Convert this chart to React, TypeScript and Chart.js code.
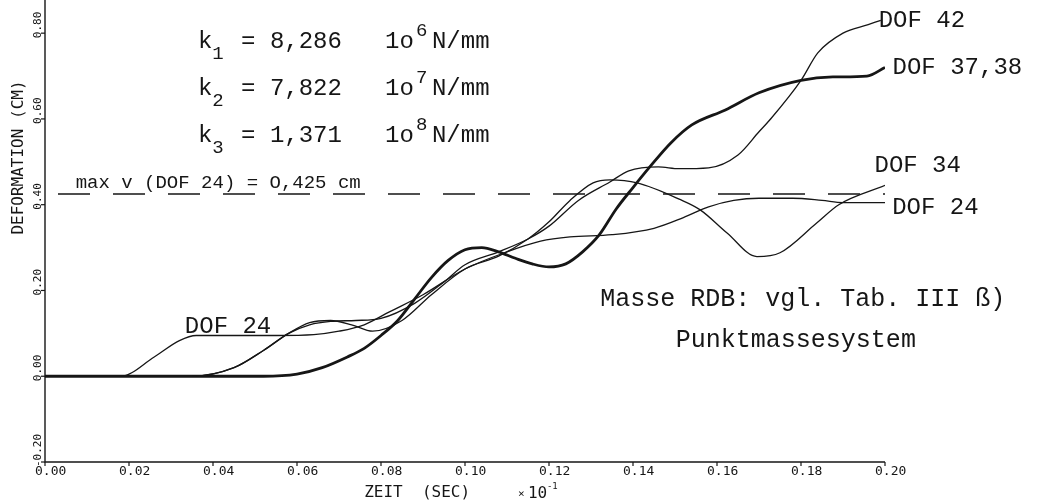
import React, { useEffect, useRef } from "react";
import { Chart, registerables } from "chart.js";

Chart.register(...registerables);

// ---- axis ticks ----
const X_TICKS = [0, 0.02, 0.04, 0.06, 0.08, 0.1, 0.12, 0.14, 0.16, 0.18, 0.2];
const X_TICK_LABELS = ["0.00", "0.02", "0.04", "0.06", "0.08", "0.10", "0.12", "0.14", "0.16", "0.18", "0.20"];
const Y_TICKS = [-0.2, 0, 0.2, 0.4, 0.6, 0.8];
const Y_TICK_LABELS = ["-0.20", "0.00", "0.20", "0.40", "0.60", "0.80"];
const X_TITLE = "ZEIT  (SEC)";
const Y_TITLE = "DEFORMATION (CM)";

// ---- series (time in sec*10^-1, deformation in cm) ----
const DOF24_T = [0, 0.018, 0.026, 0.032, 0.036, 0.045, 0.055, 0.064, 0.07, 0.076, 0.082, 0.09, 0.1, 0.11, 0.118, 0.125, 0.135, 0.145, 0.152, 0.158, 0.164, 0.17, 0.178, 0.185, 0.19, 0.2];
const DOF24_V = [0, 0, 0.045, 0.083, 0.095, 0.095, 0.095, 0.097, 0.105, 0.12, 0.15, 0.19, 0.25, 0.29, 0.315, 0.325, 0.33, 0.345, 0.37, 0.395, 0.41, 0.415, 0.415, 0.41, 0.405, 0.405];

const DOF34_T = [0, 0.035, 0.045, 0.052, 0.058, 0.063, 0.068, 0.073, 0.078, 0.085, 0.092, 0.1, 0.108, 0.115, 0.12, 0.125, 0.1305, 0.1345, 0.141, 0.151, 0.156, 0.1624, 0.1695, 0.175, 0.1838, 0.189, 0.2];
const DOF34_V = [0, 0, 0.02, 0.06, 0.1, 0.125, 0.13, 0.12, 0.105, 0.13, 0.19, 0.25, 0.28, 0.32, 0.36, 0.41, 0.451, 0.458, 0.451, 0.413, 0.388, 0.334, 0.279, 0.288, 0.358, 0.4, 0.445];

const DOF42_T = [0, 0.035, 0.045, 0.052, 0.058, 0.063, 0.068, 0.074, 0.08, 0.088, 0.095, 0.1, 0.108, 0.115, 0.12, 0.127, 0.1345, 0.139, 0.146, 0.151, 0.158, 0.165, 0.17, 0.1726, 0.18, 0.184, 0.19, 0.196, 0.199];
const DOF42_V = [0, 0, 0.02, 0.06, 0.1, 0.12, 0.128, 0.13, 0.135, 0.17, 0.22, 0.26, 0.29, 0.32, 0.35, 0.41, 0.453, 0.479, 0.488, 0.484, 0.486, 0.516, 0.57, 0.598, 0.69, 0.754, 0.8, 0.82, 0.83];

const DOF3738_T = [0, 0.052, 0.06, 0.066, 0.072, 0.076, 0.08, 0.084, 0.088, 0.092, 0.096, 0.1, 0.104, 0.108, 0.112, 0.116, 0.12, 0.124, 0.128, 0.132, 0.136, 0.14, 0.144, 0.149, 0.154, 0.162, 0.17, 0.18, 0.1876, 0.1957, 0.2];
const DOF3738_V = [0, 0, 0.005, 0.02, 0.045, 0.065, 0.095, 0.13, 0.18, 0.23, 0.27, 0.295, 0.3, 0.29, 0.275, 0.262, 0.255, 0.262, 0.29, 0.33, 0.39, 0.44, 0.488, 0.544, 0.586, 0.621, 0.661, 0.69, 0.698, 0.7, 0.72];

const MAX_V = 0.425;
const MAX_V_RANGE = [0, 0.2];

// ---- annotation texts (anchored in data coordinates) ----
const CURVE_LABELS = [
  { text: "DOF 42", t: 0.1985, v: 0.83 },
  { text: "DOF 37,38", t: 0.2018, v: 0.72 },
  { text: "DOF 34", t: 0.1975, v: 0.49 },
  { text: "DOF 24", t: 0.2017, v: 0.392 },
  { text: "DOF 24", t: 0.0333, v: 0.116 },
];
const K_LINES = [
  { base: "k", sub: "1", mid: " = 8,286   1o", sup: "6", tail: "N/mm", t: 0.0364, v: 0.766 },
  { base: "k", sub: "2", mid: " = 7,822   1o", sup: "7", tail: "N/mm", t: 0.0364, v: 0.656 },
  { base: "k", sub: "3", mid: " = 1,371   1o", sup: "8", tail: "N/mm", t: 0.0364, v: 0.547 },
];
const MAXV_TEXT = { text: "max v (DOF 24) = O,425 cm", t: 0.0073, v: 0.44 };
const NOTE_LINES = [
  { text: "Masse RDB: vgl. Tab. III ß)", t: 0.1322, v: 0.18 },
  { text: "Punktmassesystem", t: 0.1502, v: 0.083 },
];

const toPts = (ts: number[], vs: number[]) => ts.map((t, i) => ({ x: t, y: vs[i] }));

const INK = "#161616";
const MONO = "'Liberation Mono', 'DejaVu Sans Mono', monospace";
const PLOT = "'DejaVu Sans Mono', monospace";

const decorPlugin = {
  id: "decor",
  afterDraw(chart: any) {
    const { ctx, scales } = chart;
    const xs = scales.x;
    const ys = scales.y;
    const x0 = xs.getPixelForValue(0);
    const x1 = xs.getPixelForValue(0.2);
    const yb = ys.getPixelForValue(-0.2);
    const top = 0;
    ctx.save();
    ctx.strokeStyle = INK;
    ctx.fillStyle = INK;
    ctx.lineWidth = 1.4;
    // axes
    ctx.beginPath();
    ctx.moveTo(x0, top);
    ctx.lineTo(x0, yb);
    ctx.lineTo(x1, yb);
    ctx.stroke();
    // x ticks
    ctx.lineWidth = 1.2;
    X_TICKS.forEach((t) => {
      const px = xs.getPixelForValue(t);
      ctx.beginPath();
      ctx.moveTo(px, yb);
      ctx.lineTo(px, yb + 4);
      ctx.stroke();
    });
    // y ticks
    Y_TICKS.forEach((v) => {
      const py = ys.getPixelForValue(v);
      ctx.beginPath();
      ctx.moveTo(x0 - 4, py);
      ctx.lineTo(x0, py);
      ctx.stroke();
    });
    // x tick labels
    ctx.font = `13px ${PLOT}`;
    ctx.textAlign = "left";
    ctx.textBaseline = "alphabetic";
    X_TICKS.forEach((t, i) => {
      const px = xs.getPixelForValue(t);
      ctx.fillText(X_TICK_LABELS[i], px - 10, yb + 13);
    });
    // y tick labels (rotated)
    ctx.font = `11px ${PLOT}`;
    Y_TICKS.forEach((v, i) => {
      const py = ys.getPixelForValue(v);
      ctx.save();
      ctx.translate(x0 - 4, py + 5);
      ctx.rotate(-Math.PI / 2);
      ctx.fillText(Y_TICK_LABELS[i], 0, 0);
      ctx.restore();
    });
    // axis titles
    ctx.font = `16px ${PLOT}`;
    ctx.textAlign = "center";
    ctx.fillText(X_TITLE, xs.getPixelForValue(0.0886), yb + 35);
    ctx.save();
    ctx.translate(x0 - 22, ys.getPixelForValue(0.51));
    ctx.rotate(-Math.PI / 2);
    ctx.fillText(Y_TITLE, 0, 0);
    ctx.restore();
    // x10^-1
    ctx.textAlign = "left";
    const ex = xs.getPixelForValue(0.1126);
    ctx.font = `11px ${PLOT}`;
    ctx.fillText("×", ex, yb + 35);
    ctx.font = `16px ${PLOT}`;
    ctx.fillText("10", ex + 10, yb + 36);
    ctx.font = `9px ${PLOT}`;
    ctx.fillText("-1", ex + 29, yb + 27);

    // annotations
    ctx.font = `24px ${MONO}`;
    ctx.textBaseline = "middle";
    CURVE_LABELS.forEach((l) => {
      ctx.fillText(l.text, xs.getPixelForValue(l.t), ys.getPixelForValue(l.v));
    });
    ctx.font = `25px ${MONO}`;
    NOTE_LINES.forEach((l) => {
      ctx.fillText(l.text, xs.getPixelForValue(l.t), ys.getPixelForValue(l.v));
    });
    ctx.textBaseline = "alphabetic";
    ctx.font = `19px ${MONO}`;
    ctx.fillText(MAXV_TEXT.text, xs.getPixelForValue(MAXV_TEXT.t), ys.getPixelForValue(MAXV_TEXT.v));
    K_LINES.forEach((k) => {
      let px = xs.getPixelForValue(k.t);
      const py = ys.getPixelForValue(k.v);
      ctx.font = `24px ${MONO}`;
      const cw = ctx.measureText("0").width;
      ctx.fillText(k.base, px, py);
      px += cw;
      ctx.font = `19px ${MONO}`;
      ctx.fillText(k.sub, px, py + 11);
      px += cw;
      ctx.font = `24px ${MONO}`;
      ctx.fillText(k.mid, px, py);
      px += cw * k.mid.length;
      ctx.font = `19px ${MONO}`;
      ctx.fillText(k.sup, px + 2, py - 12);
      px += cw * 1.25;
      ctx.font = `24px ${MONO}`;
      ctx.fillText(k.tail, px, py);
    });
    ctx.restore();
  },
};

export default function App() {
  const ref = useRef<HTMLCanvasElement>(null);
  useEffect(() => {
    document.body.style.margin = "0";
    const canvas = ref.current!;
    const thin = { borderColor: INK, borderWidth: 1.3, pointRadius: 0, cubicInterpolationMode: "monotone" as const, fill: false };
    const chart = new Chart(canvas, {
      type: "line",
      data: {
        datasets: [
          { label: "DOF 24", data: toPts(DOF24_T, DOF24_V), ...thin },
          { label: "DOF 34", data: toPts(DOF34_T, DOF34_V), ...thin },
          { label: "DOF 42", data: toPts(DOF42_T, DOF42_V), ...thin },
          { label: "DOF 37,38", data: toPts(DOF3738_T, DOF3738_V), ...thin, borderWidth: 2.8 },
          {
            label: "max v",
            data: MAX_V_RANGE.map((t) => ({ x: t, y: MAX_V })),
            borderColor: INK,
            borderWidth: 1.3,
            borderDash: [32, 23],
            borderDashOffset: 42,
            pointRadius: 0,
            tension: 0,
          },
        ],
      },
      options: {
        responsive: false,
        animation: false,
        events: [],
        layout: { padding: { left: 45, right: 152, top: 1, bottom: 42 } },
        scales: {
          x: { type: "linear", min: 0, max: 0.2, display: false },
          y: { type: "linear", min: -0.2, max: 0.875, display: false },
        },
        plugins: { legend: { display: false }, tooltip: { enabled: false } },
      },
      plugins: [decorPlugin],
    });
    return () => chart.destroy();
  }, []);
  return (
    <div style={{ position: "fixed", left: 0, top: 0, width: 1037, height: 504, background: "#fff" }}>
      <canvas ref={ref} width={1037} height={504} style={{ display: "block", width: 1037, height: 504 }} />
    </div>
  );
}
